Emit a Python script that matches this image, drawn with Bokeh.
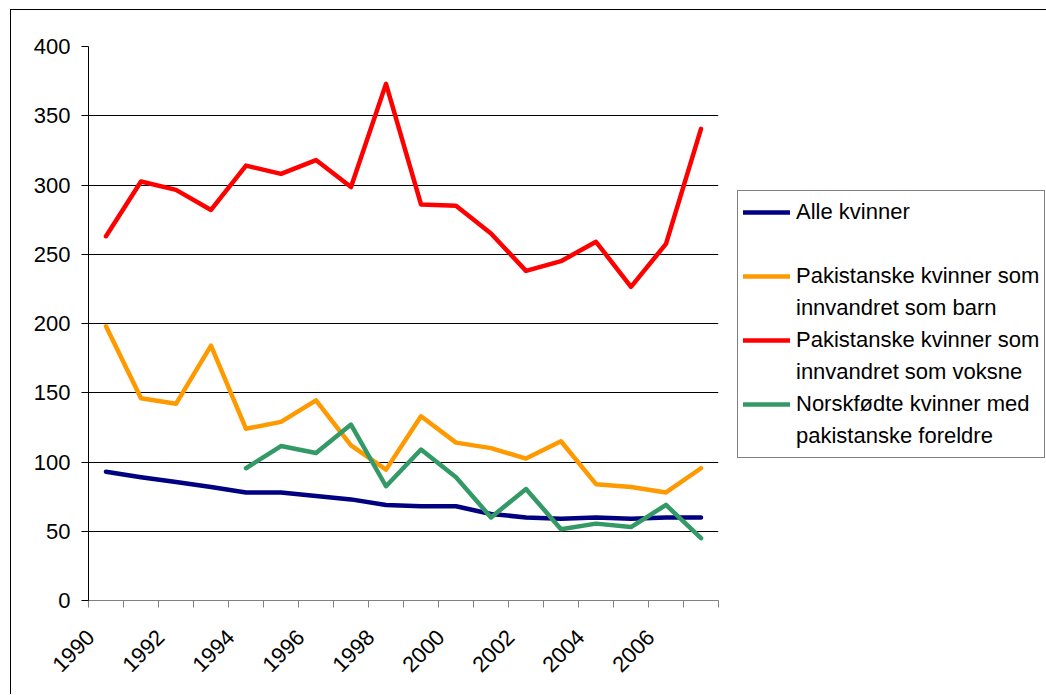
import math
from bokeh.plotting import figure
from bokeh.models import Range1d, FixedTicker, Legend, LegendItem, CustomJSTickFormatter
from bokeh.embed import file_html
from bokeh.resources import INLINE

years = list(range(1990, 2008))
alle = [93, 89, 85.5, 82, 78, 78, 75.5, 73, 69, 68, 68, 62.5, 60, 59, 60, 59, 60, 60]
barn = [198, 146, 142, 184, 124, 129, 144.5, 112, 94.5, 133, 114, 110, 102.5, 115, 84, 82, 78, 95.5]
voksne = [263, 302.5, 296.5, 282, 314, 308, 318, 298.5, 373, 286, 285, 265, 238, 245, 259, 226.5, 257.5, 340.5]
green_years = list(range(1994, 2008))
norsk = [95.5, 111.5, 106.5, 127, 82.5, 109, 89, 60, 80.5, 51.5, 55.5, 53, 69, 45]

label_years = list(range(1990, 2007, 2))
x_bounds = [y - 0.5 for y in range(1990, 2009)]
y_ticks = list(range(0, 401, 50))

labels = [
    ("Alle kvinner", "#000080"),
    (" ", None),
    ("Pakistanske kvinner som", "#FF9900"),
    ("innvandret som barn", None),
    ("Pakistanske kvinner som", "#FF0000"),
    ("innvandret som voksne", None),
    ("Norskfødte kvinner med", "#339966"),
    ("pakistanske foreldre", None),
]

FONT = "Liberation Sans"

p = figure(frame_width=630, frame_height=554, output_backend="svg", toolbar_location=None,
           x_range=Range1d(1989.5, 2007.5), y_range=Range1d(0, 400),
           min_border_left=77, min_border_right=327, min_border_top=36, min_border_bottom=94)
p.styles = {"border-left": "1px solid black", "border-top": "1px solid black",
            "margin-left": "10px", "margin-top": "9px"}
p.outline_line_color = None
p.background_fill_color = "white"
p.border_fill_color = "white"

# x axis: labels anchored slightly left of the category centre (as in the original),
# tick marks between categories
label_anchor = [y - 0.4375 for y in label_years]
p.xaxis.ticker = FixedTicker(ticks=label_anchor, minor_ticks=x_bounds)
p.xaxis.formatter = CustomJSTickFormatter(code="return Math.round(tick).toString()")
p.xaxis.major_tick_line_color = None
p.xaxis.minor_tick_line_color = "#808080"
p.xaxis.minor_tick_in = 0
p.xaxis.minor_tick_out = 7
p.xaxis.axis_line_color = "#808080"
p.xaxis.major_label_orientation = math.pi / 4
p.xaxis.major_label_standoff = 26
p.xaxis.major_label_text_font = FONT
p.xaxis.major_label_text_font_size = "22px"
p.xaxis.major_label_text_color = "black"

p.yaxis.ticker = FixedTicker(ticks=y_ticks)
p.yaxis.minor_tick_line_color = None
p.yaxis.major_tick_in = 0
p.yaxis.major_tick_out = 7
p.yaxis.major_tick_line_color = "black"
p.yaxis.axis_line_color = "black"
p.yaxis.major_label_standoff = 11
p.yaxis.major_label_text_font = FONT
p.yaxis.major_label_text_font_size = "22px"
p.yaxis.major_label_text_color = "black"

p.xgrid.visible = False
p.ygrid.ticker = FixedTicker(ticks=y_ticks[1:])
p.ygrid.grid_line_color = "black"
p.ygrid.grid_line_width = 1

lw = 4.5
r_alle = p.line(years, alle, line_color="#000080", line_width=lw, line_cap="round", line_join="round")
r_barn = p.line(years, barn, line_color="#FF9900", line_width=lw, line_cap="round", line_join="round")
r_voks = p.line(years, voksne, line_color="#FF0000", line_width=lw, line_cap="round", line_join="round")
r_nors = p.line(green_years, norsk, line_color="#339966", line_width=lw, line_cap="round", line_join="round")

real = {"#000080": r_alle, "#FF9900": r_barn, "#FF0000": r_voks, "#339966": r_nors}
items = []
for text, col in labels:
    if col is None:
        dummy = p.line(x=[], y=[], line_alpha=0)
        items.append(LegendItem(label=text, renderers=[dummy]))
    else:
        items.append(LegendItem(label=text, renderers=[real[col]]))

legend = Legend(items=items, location=(19, 142), orientation="vertical",
                label_text_font=FONT, label_text_font_size="22px", label_text_color="black",
                label_height=32, glyph_height=32, glyph_width=47, label_standoff=6,
                spacing=0, padding=5, margin=0,
                border_line_color="black", border_line_width=1,
                background_fill_color="white", background_fill_alpha=1)
p.add_layout(legend, "right")

open("out.html", "w").write(file_html(p, INLINE))
